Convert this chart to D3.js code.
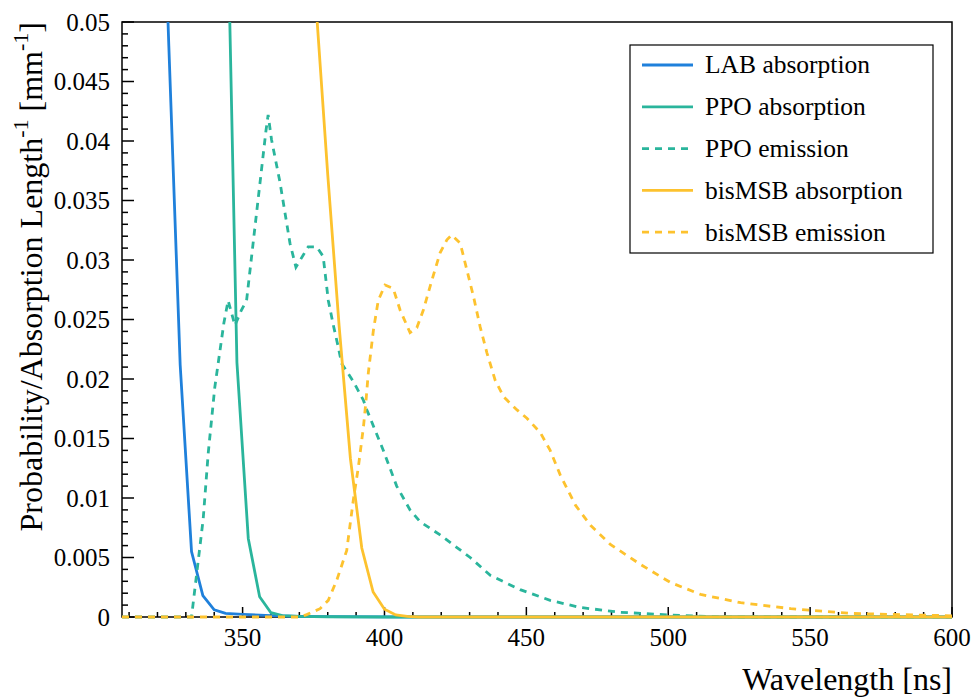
<!DOCTYPE html>
<html>
<head>
<meta charset="utf-8">
<script src="https://cdn.jsdelivr.net/npm/d3@7"></script>
<style>
  body { margin: 0; background: #fff; }
  svg text { font-family: 'Liberation Serif', 'Times New Roman', 'DejaVu Serif', serif; fill: #000; }
</style>
</head>
<body>
<script>
// Series data: [wavelength, value]
const labAbsorption = [
  [316, 0.104], [320, 0.076], [324, 0.048], [328, 0.0212], [332, 0.0055], [336, 0.0018],
  [340, 0.0006], [344, 0.0003], [350, 0.00022], [360, 0.00012], [370, 0.00006],
  [380, 0.00003], [400, 0.00001], [420, 0], [600, 0]
]
const ppoAbsorption = [
  [340, 0.113], [344, 0.067], [348, 0.0214], [352, 0.0066], [356, 0.0017], [360, 0.00036],
  [364, 0.00012], [370, 0.00005], [380, 0.00002], [400, 0], [600, 0]
]
const ppoEmission = [
  [307.5, 0], [332, 0], [336.1, 0.0082], [337.9, 0.0138], [340.2, 0.0193], [343.4, 0.0247],
  [344.9, 0.0266], [347.3, 0.0245], [349.6, 0.0258], [351.4, 0.0266], [358.2, 0.0408],
  [359, 0.0422], [360.2, 0.0401], [363.2, 0.0365], [366.7, 0.0314], [368.8, 0.0294],
  [373.1, 0.0311], [376.1, 0.0311], [378.4, 0.0303], [380.2, 0.0266], [382, 0.0245],
  [383.7, 0.0227], [384.9, 0.0213], [389, 0.0198], [392.6, 0.0182], [393.8, 0.0174],
  [399.6, 0.014], [404.3, 0.011], [409, 0.009], [412.6, 0.008], [419.6, 0.0069],
  [430.2, 0.005], [437.3, 0.0035], [447.8, 0.0023], [458.4, 0.0014], [469, 0.0008],
  [483.1, 0.0004], [500.8, 0.00017], [518.5, 0], [600, 0]
]
const bisAbsorption = [
  [372, 0.066], [376, 0.051], [380, 0.0372], [384, 0.0245], [388, 0.0133], [392, 0.0058],
  [396, 0.0021], [400, 0.00065], [404, 0.00017], [408, 0.00005], [412, 0], [600, 0]
]
const bisEmission = [
  [307.5, 0], [370.2, 0], [372.6, 0.0002], [377.3, 0.0007], [380.2, 0.0014], [383.2, 0.0031],
  [386.7, 0.0056], [389, 0.0098], [390.8, 0.0126], [392.6, 0.016], [393.5, 0.0182],
  [394.3, 0.0205], [396.1, 0.0241], [397.8, 0.0266], [400.2, 0.0279], [403.1, 0.0276],
  [405.5, 0.0258], [409, 0.0239], [411.4, 0.0243], [413.7, 0.0258], [416.7, 0.0283],
  [419.6, 0.0306], [422, 0.0317], [423.7, 0.0321], [426.7, 0.0314], [429, 0.0292],
  [431.4, 0.0269], [433.7, 0.0244], [436.1, 0.0222], [439, 0.0199], [442, 0.0185],
  [446.7, 0.0174], [450.2, 0.0167], [454.9, 0.0155], [458.4, 0.014], [462, 0.0119],
  [467.3, 0.0094], [472.6, 0.0077], [479.6, 0.0061], [490.3, 0.0044], [500.8, 0.0029],
  [511.4, 0.0019], [525.5, 0.0012], [543.2, 0.0007], [564.3, 0.0003], [600, 0.0001]
]

const seriesNames = ['LAB absorption', 'PPO absorption', 'PPO emission', 'bisMSB absorption', 'bisMSB emission']
const seriesData = [labAbsorption, ppoAbsorption, ppoEmission, bisAbsorption, bisEmission]
const seriesColors = ['#1f80db', '#2ab59c', '#2ab59c', '#fdc22e', '#fdc22e']
const seriesDashed = [false, false, true, false, true]

const xMajorTicks = [350, 400, 450, 500, 550, 600]
const yMajorTicks = [0, 0.005, 0.01, 0.015, 0.02, 0.025, 0.03, 0.035, 0.04, 0.045, 0.05]

const width = 972
const height = 698
const plotLeft = 122, plotRight = 952, plotTop = 22, plotBottom = 617
const serif = "'Liberation Serif', 'Times New Roman', serif"

const svg = d3.select(document.body).append('svg')
  .attr('width', width)
  .attr('height', height)

const x = d3.scaleLinear().domain([307.5, 600]).range([plotLeft, plotRight])
const y = d3.scaleLinear().domain([0, 0.05]).range([plotBottom, plotTop])

// Clip for the curves (a bit extra at the bottom so zero lines show fully)
svg.append('defs').append('clipPath').attr('id', 'plot-clip')
  .append('rect')
  .attr('x', plotLeft).attr('y', plotTop)
  .attr('width', plotRight - plotLeft).attr('height', plotBottom - plotTop + 3)

// Frame
svg.append('rect')
  .attr('x', plotLeft).attr('y', plotTop)
  .attr('width', plotRight - plotLeft).attr('height', plotBottom - plotTop)
  .attr('fill', 'none')
  .attr('stroke', '#000')
  .attr('stroke-width', 1.5)

// Y ticks (inside, left side)
const yMinor = d3.range(0, 51).map((i) => i * 0.001)
svg.append('g').selectAll('line')
  .data(yMinor)
  .enter()
  .append('line')
  .attr('x1', plotLeft)
  .attr('x2', (d, i) => plotLeft + (i % 5 === 0 ? 12 : 6))
  .attr('y1', (d) => y(d))
  .attr('y2', (d) => y(d))
  .attr('stroke', '#000')
  .attr('stroke-width', 1.5)

svg.append('g').selectAll('text')
  .data(yMajorTicks)
  .enter()
  .append('text')
  .attr('x', 110)
  .attr('y', (d) => y(d))
  .attr('dy', '0.35em')
  .attr('text-anchor', 'end')
  .attr('font-family', serif)
  .attr('font-size', 25)
  .text((d) => (d === 0 ? '0' : d3.format('.3~f')(d)))

// X ticks (inside, bottom)
const xMinor = d3.range(310, 601, 10)
svg.append('g').selectAll('line')
  .data(xMinor)
  .enter()
  .append('line')
  .attr('x1', (d) => x(d))
  .attr('x2', (d) => x(d))
  .attr('y1', plotBottom)
  .attr('y2', (d) => plotBottom - (d % 50 === 0 ? 10 : 5))
  .attr('stroke', '#000')
  .attr('stroke-width', 1.5)

svg.append('g').selectAll('text')
  .data(xMajorTicks)
  .enter()
  .append('text')
  .attr('x', (d) => x(d))
  .attr('y', 646)
  .attr('text-anchor', 'middle')
  .attr('font-family', serif)
  .attr('font-size', 25)
  .text((d) => d)

// Curves
const line = d3.line().x((d) => x(d[0])).y((d) => y(d[1]))
const curves = svg.append('g').attr('clip-path', 'url(#plot-clip)')
seriesData.forEach((data, i) => {
  curves.append('path')
    .datum(data)
    .attr('d', line)
    .attr('fill', 'none')
    .attr('stroke', seriesColors[i])
    .attr('stroke-width', 2.8)
    .attr('stroke-dasharray', seriesDashed[i] ? '7,6' : null)
})

// Legend
const legend = svg.append('g')
legend.append('rect')
  .attr('x', 630).attr('y', 45)
  .attr('width', 303).attr('height', 208)
  .attr('fill', '#fff')
  .attr('stroke', '#000')
  .attr('stroke-width', 1.2)

seriesNames.forEach((name, i) => {
  const ly = 65 + i * 41.8
  legend.append('line')
    .attr('x1', 642).attr('x2', 693)
    .attr('y1', ly).attr('y2', ly)
    .attr('stroke', seriesColors[i])
    .attr('stroke-width', 2.8)
    .attr('stroke-dasharray', seriesDashed[i] ? '7,6' : null)
  legend.append('text')
    .attr('x', 705).attr('y', ly)
    .attr('dy', '0.33em')
    .attr('font-family', serif)
    .attr('font-size', 25.5)
    .text(name)
})

// Axis titles
svg.append('text')
  .attr('x', plotRight)
  .attr('y', 690)
  .attr('text-anchor', 'end')
  .attr('font-family', serif)
  .attr('font-size', 32)
  .text('Wavelength [ns]')

const yTitle = svg.append('text')
  .attr('transform', `translate(42,${plotTop}) rotate(-90)`)
  .attr('text-anchor', 'end')
  .attr('font-family', serif)
  .attr('font-size', 32)
yTitle.append('tspan').text('Probability/Absorption Length')
yTitle.append('tspan').attr('font-size', 22).attr('dy', -14).text('-1')
yTitle.append('tspan').attr('dy', 14).text(' [mm')
yTitle.append('tspan').attr('font-size', 22).attr('dy', -14).text('-1')
yTitle.append('tspan').attr('dy', 14).text(']')
</script>
</body>
</html>
